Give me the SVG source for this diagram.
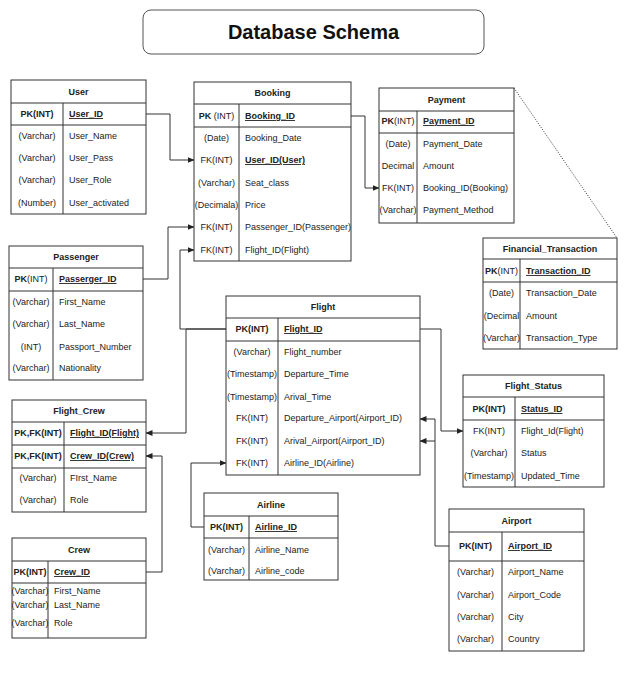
<svg xmlns="http://www.w3.org/2000/svg" width="624" height="674" viewBox="0 0 624 674">
<defs>
<marker id="ah" markerWidth="7" markerHeight="6" refX="6.5" refY="3" orient="auto" markerUnits="userSpaceOnUse"><path d="M0,0 L7,3 L0,6 z" fill="#222"/></marker>
<style>
.box{fill:#fff;stroke:#333;stroke-width:1}
.ln{stroke:#333;stroke-width:1;fill:none}
.t{font-family:"Liberation Sans",Arial,sans-serif;font-size:9px;fill:#222}
.h{font-weight:bold;text-anchor:middle}
.c{text-anchor:middle}
.b{font-weight:bold}
.u{text-decoration:underline}
.conn{fill:none;stroke:#333;stroke-width:1}
.title{font-family:"Liberation Sans",Arial,sans-serif;font-size:20px;font-weight:bold;fill:#111;text-anchor:middle}
</style>
</defs>
<rect width="624" height="674" fill="#fff"/>

<g id="title">
<rect x="143" y="10" width="341" height="44" rx="8" fill="#fff" stroke="#555" stroke-width="1"/>
<text class="title" x="313.5" y="39">Database Schema</text>
</g>

<g id="connectors">
<path class="conn" d="M146,114 H170 V160 H194" marker-end="url(#ah)"/>
<path class="conn" d="M143,279 H168 V227 H194" marker-end="url(#ah)"/>
<path class="conn" d="M226,329 H180 V250 H194" marker-end="url(#ah)"/>
<path class="conn" d="M226,329 H186 V433 H146" marker-end="url(#ah)"/>
<path class="conn" d="M146,572 H162 V456 H146" marker-end="url(#ah)"/>
<path class="conn" d="M351,116 H365 V188 H379" marker-end="url(#ah)"/>
<path class="conn" d="M420,329 H441 V431 H463" marker-end="url(#ah)"/>
<path class="conn" d="M449,546 H435 V419 H420" marker-end="url(#ah)"/>
<path class="conn" d="M435,441 H420" marker-end="url(#ah)"/>
<path class="conn" d="M204,527 H191 V463 H226" marker-end="url(#ah)"/>
<path class="conn" d="M514,88 L617,238" stroke-dasharray="1,1.5" stroke="#555"/>
</g>

<g id="User">
<rect class="box" x="11" y="80" width="135" height="134"/>
<path class="ln" d="M11,103 H146 M11,125 H146 M63,103 V214"/>
<text class="t h" x="78.5" y="94.5">User</text>
<text class="t c b" x="37" y="117">PK(INT)</text>
<text class="t b u" x="69" y="117">User_ID</text>
<text class="t c" x="37" y="139">(Varchar)</text><text class="t" x="69" y="139">User_Name</text>
<text class="t c" x="37" y="161">(Varchar)</text><text class="t" x="69" y="161">User_Pass</text>
<text class="t c" x="37" y="183">(Varchar)</text><text class="t" x="69" y="183">User_Role</text>
<text class="t c" x="37" y="206">(Number)</text><text class="t" x="69" y="206">User_activated</text>
</g>

<g id="Booking">
<rect class="box" x="194" y="82" width="157" height="179"/>
<path class="ln" d="M194,104 H351 M194,127 H351 M239,104 V261"/>
<text class="t h" x="272.5" y="96">Booking</text>
<text class="t c" x="216.5" y="119"><tspan class="b">PK</tspan> (INT)</text>
<text class="t b u" x="245" y="119">Booking_ID</text>
<text class="t c" x="216.5" y="141">(Date)</text><text class="t" x="245" y="141">Booking_Date</text>
<text class="t c" x="216.5" y="163">FK(INT)</text><text class="t b u" x="245" y="163">User_ID(User)</text>
<text class="t c" x="216.5" y="186">(Varchar)</text><text class="t" x="245" y="186">Seat_class</text>
<text class="t c" x="216.5" y="208">(Decimala)</text><text class="t" x="245" y="208">Price</text>
<text class="t c" x="216.5" y="230">FK(INT)</text><text class="t" x="245" y="230">Passenger_ID(Passenger)</text>
<text class="t c" x="216.5" y="253">FK(INT)</text><text class="t" x="245" y="253">Flight_ID(Flight)</text>
</g>

<g id="Payment">
<rect class="box" x="379" y="88" width="135" height="135"/>
<path class="ln" d="M379,111 H514 M379,133 H514 M417,111 V223"/>
<text class="t h" x="446.5" y="102.5">Payment</text>
<text class="t c" x="398" y="124"><tspan class="b">PK</tspan>(INT)</text>
<text class="t b u" x="423" y="124">Payment_ID</text>
<text class="t c" x="398" y="147">(Date)</text><text class="t" x="423" y="147">Payment_Date</text>
<text class="t c" x="398" y="169">Decimal</text><text class="t" x="423" y="169">Amount</text>
<text class="t c" x="398" y="191">FK(INT)</text><text class="t" x="423" y="191">Booking_ID(Booking)</text>
<text class="t c" x="398" y="213">(Varchar)</text><text class="t" x="423" y="213">Payment_Method</text>
</g>

<g id="Financial_Transaction">
<rect class="box" x="483" y="238" width="134" height="111"/>
<path class="ln" d="M483,259 H617 M483,282 H617 M520,259 V349"/>
<text class="t h" x="550" y="251.5">Financial_Transaction</text>
<text class="t c" x="501.5" y="274"><tspan class="b">PK</tspan>(INT)</text>
<text class="t b u" x="526" y="274">Transaction_ID</text>
<text class="t c" x="501.5" y="296">(Date)</text><text class="t" x="526" y="296">Transaction_Date</text>
<text class="t c" x="501.5" y="319">(Decimal</text><text class="t" x="526" y="319">Amount</text>
<text class="t c" x="501.5" y="341">(Varchar)</text><text class="t" x="526" y="341">Transaction_Type</text>
</g>

<g id="Passenger">
<rect class="box" x="9" y="246" width="134" height="134"/>
<path class="ln" d="M9,268 H143 M9,291 H143 M53,268 V380"/>
<text class="t h" x="76" y="260">Passenger</text>
<text class="t c" x="31" y="282"><tspan class="b">PK</tspan>(INT)</text>
<text class="t b u" x="59" y="282">Passerger_ID</text>
<text class="t c" x="31" y="305">(Varchar)</text><text class="t" x="59" y="305">First_Name</text>
<text class="t c" x="31" y="327">(Varchar)</text><text class="t" x="59" y="327">Last_Name</text>
<text class="t c" x="31" y="350">(INT)</text><text class="t" x="59" y="350">Passport_Number</text>
<text class="t c" x="31" y="371">(Varchar)</text><text class="t" x="59" y="371">Nationality</text>
</g>

<g id="Flight">
<rect class="box" x="226" y="296" width="194" height="179"/>
<path class="ln" d="M226,318 H420 M226,341 H420 M278,318 V475"/>
<text class="t h" x="323" y="310">Flight</text>
<text class="t c b" x="252" y="332">PK(INT)</text>
<text class="t b u" x="284" y="332">Flight_ID</text>
<text class="t c" x="252" y="355">(Varchar)</text><text class="t" x="284" y="355">Flight_number</text>
<text class="t c" x="252" y="377">(Timestamp)</text><text class="t" x="284" y="377">Departure_Time</text>
<text class="t c" x="252" y="400">(Timestamp)</text><text class="t" x="284" y="400">Arival_Time</text>
<text class="t c" x="252" y="421">FK(INT)</text><text class="t" x="284" y="421">Departure_Airport(Airport_ID)</text>
<text class="t c" x="252" y="444">FK(INT)</text><text class="t" x="284" y="444">Arival_Airport(Airport_ID)</text>
<text class="t c" x="252" y="466">FK(INT)</text><text class="t" x="284" y="466">Airline_ID(Airline)</text>
</g>

<g id="Flight_Crew">
<rect class="box" x="12" y="400" width="134" height="112"/>
<path class="ln" d="M12,422 H146 M12,445 H146 M12,468 H146 M64,422 V512"/>
<text class="t h" x="79" y="414">Flight_Crew</text>
<text class="t c b" x="38" y="436">PK,FK(INT)</text>
<text class="t b u" x="70" y="436">Flight_ID(Flight)</text>
<text class="t c b" x="38" y="459">PK,FK(INT)</text>
<text class="t b u" x="70" y="459">Crew_ID(Crew)</text>
<text class="t c" x="38" y="481">(Varchar)</text><text class="t" x="70" y="481">FIrst_Name</text>
<text class="t c" x="38" y="503">(Varchar)</text><text class="t" x="70" y="503">Role</text>
</g>

<g id="Flight_Status">
<rect class="box" x="463" y="375" width="141" height="112"/>
<path class="ln" d="M463,397 H604 M463,420 H604 M515,397 V487"/>
<text class="t h" x="533.5" y="389">Flight_Status</text>
<text class="t c b" x="489" y="412">PK(INT)</text>
<text class="t b u" x="521" y="412">Status_ID</text>
<text class="t c" x="489" y="434">FK(INT)</text><text class="t" x="521" y="434">Flight_Id(Flight)</text>
<text class="t c" x="489" y="456">(Varchar)</text><text class="t" x="521" y="456">Status</text>
<text class="t c" x="489" y="479">(Timestamp)</text><text class="t" x="521" y="479">Updated_Time</text>
</g>

<g id="Crew">
<rect class="box" x="12" y="538" width="134" height="100"/>
<path class="ln" d="M12,561 H146 M12,583 H146 M48,561 V638"/>
<text class="t h" x="79" y="552.5">Crew</text>
<text class="t c b" x="30" y="575">PK(INT)</text>
<text class="t b u" x="54" y="575">Crew_ID</text>
<text class="t c" x="30" y="594">(Varchar)</text><text class="t" x="54" y="594">First_Name</text>
<text class="t c" x="30" y="608">(Varchar)</text><text class="t" x="54" y="608">Last_Name</text>
<text class="t c" x="30" y="626">(Varchar)</text><text class="t" x="54" y="626">Role</text>
</g>

<g id="Airline">
<rect class="box" x="204" y="493" width="134" height="87"/>
<path class="ln" d="M204,516 H338 M204,538 H338 M249,516 V580"/>
<text class="t h" x="271" y="507.5">Airline</text>
<text class="t c b" x="226.5" y="530">PK(INT)</text>
<text class="t b u" x="255" y="530">Airline_ID</text>
<text class="t c" x="226.5" y="553">(Varchar)</text><text class="t" x="255" y="553">Airline_Name</text>
<text class="t c" x="226.5" y="574">(Varchar)</text><text class="t" x="255" y="574">Airline_code</text>
</g>

<g id="Airport">
<rect class="box" x="449" y="509" width="135" height="142"/>
<path class="ln" d="M449,532 H584 M449,561 H584 M502,532 V651"/>
<text class="t h" x="516.5" y="523.5">Airport</text>
<text class="t c b" x="475.5" y="549">PK(INT)</text>
<text class="t b u" x="508" y="549">Airport_ID</text>
<text class="t c" x="475.5" y="575">(Varchar)</text><text class="t" x="508" y="575">Airport_Name</text>
<text class="t c" x="475.5" y="598">(Varchar)</text><text class="t" x="508" y="598">Airport_Code</text>
<text class="t c" x="475.5" y="620">(Varchar)</text><text class="t" x="508" y="620">City</text>
<text class="t c" x="475.5" y="642">(Varchar)</text><text class="t" x="508" y="642">Country</text>
</g>
</svg>
